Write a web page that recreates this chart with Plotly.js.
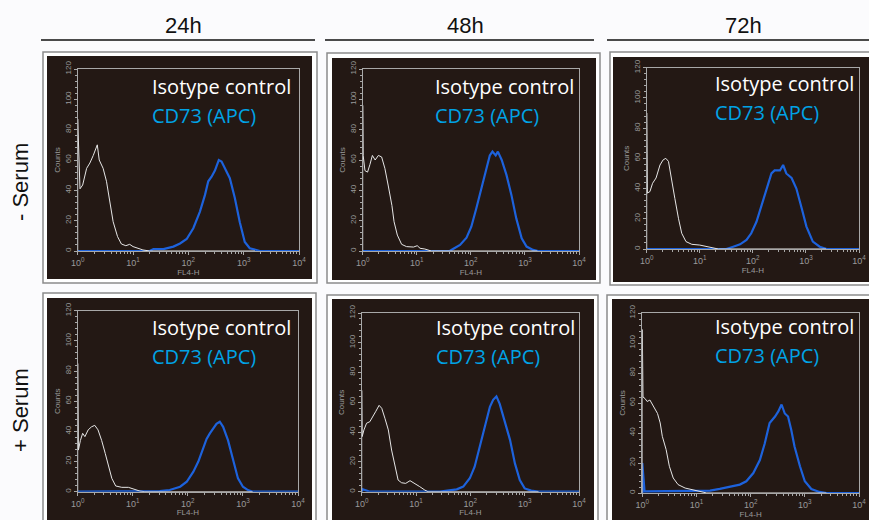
<!DOCTYPE html>
<html>
<head>
<meta charset="utf-8">
<script src="https://cdn.plot.ly/plotly-3.0.1.min.js"></script>
<style>html,body{margin:0;padding:0;background:#fbfbfd;}#chart{width:869px;height:520px;}</style>
</head>
<body>
<div id="chart"></div>
<script>
// ---- Data (FL4-H intensity vs Counts) ----
const timeLabels = ['24h', '48h', '72h'];
const rowLabels = ['- Serum', '+ Serum'];
const isoName = 'Isotype control';
const cdName = 'CD73 (APC)';
const xTickVals = [1, 10, 100, 1000, 10000];
const xTickText = ['10<sup>0</sup>', '10<sup>1</sup>', '10<sup>2</sup>', '10<sup>3</sup>', '10<sup>4</sup>'];

// 24h, - Serum
const iso24mX = [1, 1, 1.1, 1.23, 1.45, 1.66, 1.91, 2.26, 2.45, 2.88, 3.31, 3.8, 4.37, 5.25, 6.17, 7.41, 8.71, 10, 12.3, 15.1, 20, 1600];
const iso24mY = [0, 87, 41, 43.5, 54.5, 58, 63, 70, 60, 54.5, 46, 32.5, 19.3, 9.5, 4.6, 3.5, 4.4, 2.9, 1.8, 0.7, 0, 0];
const cd24mX = [1, 20, 23.4, 35.5, 53.7, 70.8, 93.3, 123, 162, 200, 229, 263, 302, 355, 398, 457, 562, 692, 851, 1047, 1288, 1698, 1950, 10000];
const cd24mY = [0, 0, 1.3, 1.3, 2.9, 5, 7.9, 15, 26, 37, 46, 49, 53, 60, 59, 54.5, 48, 35, 19, 6, 1.8, 0.7, 0, 0];
// 48h, - Serum
const iso48mX = [1, 1, 1.02, 1.1, 1.23, 1.36, 1.51, 1.7, 1.95, 2.24, 2.57, 2.95, 3.47, 3.8, 4.37, 5.25, 6.46, 8.71, 10.2, 11.5, 14.1, 18.6, 1700];
const iso48mY = [0, 96, 63, 53, 52, 57, 63, 60, 63, 62, 54.5, 43.5, 30, 19.3, 10.5, 4.4, 2.9, 2.6, 3.5, 1.8, 1.3, 0, 0];
const cd48mX = [1, 40.7, 46.8, 63.1, 83.2, 102, 126, 158, 195, 224, 251, 288, 316, 372, 457, 562, 692, 871, 1072, 1413, 1738, 10000];
const cd48mY = [0, 0, 1.3, 4, 8.8, 16, 28, 41, 54.5, 63, 65.5, 63, 65.5, 60, 50, 37, 21.5, 8.4, 2.9, 0.7, 0, 0];
// 72h, - Serum
const iso72mX = [1, 1, 1.03, 1.15, 1.29, 1.5, 1.66, 1.78, 2.04, 2.29, 2.57, 2.95, 3.39, 3.98, 4.57, 5.5, 7.08, 10, 13.5, 19.5, 22.4, 2400];
const iso72mY = [0, 90, 37, 38, 43.5, 47, 52, 55.6, 59, 60, 58, 47, 33.5, 20, 10.4, 4.9, 3.1, 2.6, 1.5, 0.4, 0, 0];
const cd72mX = [1, 31.6, 42.7, 57.5, 75.9, 93.3, 117, 145, 182, 224, 257, 324, 372, 427, 537, 661, 832, 1023, 1349, 1820, 2455, 10000];
const cd72mY = [0, 0, 1.5, 3.1, 6, 10.4, 18, 29, 40, 50, 52, 52, 55.6, 50, 47, 40, 27, 14.8, 4.9, 1.5, 0, 0];
// 24h, + Serum
const iso24pX = [1, 1, 1.03, 1.12, 1.23, 1.35, 1.55, 1.78, 2.04, 2.34, 2.72, 3.16, 3.63, 4.17, 4.9, 6.31, 8.32, 11, 13.5, 16.6, 1500];
const iso24pY = [0, 85, 27.6, 34, 38.7, 36.5, 41, 43, 44, 41, 34, 25.4, 16.6, 8.8, 3.8, 2.9, 2.9, 1.5, 0.4, 0, 0];
const cd24pX = [1, 20.4, 30.9, 46.8, 72.4, 95.5, 126, 155, 191, 219, 251, 288, 331, 380, 437, 537, 661, 813, 1000, 1230, 1514, 10000];
const cd24pY = [0, 0, 0.4, 1.1, 3.3, 6.6, 13.3, 20, 30, 35, 38.7, 42, 45, 46.4, 43, 34, 21, 8.8, 3.3, 1.1, 0, 0];
// 48h, + Serum
const iso48pX = [1, 1, 1.02, 1.1, 1.23, 1.41, 1.62, 1.82, 2.09, 2.34, 2.69, 3.09, 3.55, 4.07, 4.68, 5.43, 6.46, 7.76, 9.55, 11.7, 14.5, 16.6, 1800];
const iso48pY = [0, 68, 37, 41.5, 46, 47, 50.4, 54, 58, 56, 49, 41.5, 28, 16.8, 7.8, 6, 5.6, 7.4, 5.6, 3.4, 1.1, 0, 0];
const cd48pX = [1, 1.05, 1.3, 1.4, 27.5, 36.3, 56.2, 74.1, 97.7, 120, 148, 186, 229, 263, 302, 347, 427, 537, 661, 813, 1000, 1318, 1778, 10000];
const cd48pY = [0, 1.6, 0.4, 0, 0, 0.7, 1.6, 3.4, 9, 16.8, 30, 43.7, 57, 61.7, 64, 59, 48, 34.8, 19, 7.8, 2.2, 0.7, 0, 0];
// 72h, + Serum
const iso72pX = [1, 1, 1.03, 1.12, 1.23, 1.38, 1.55, 1.7, 1.91, 2.14, 2.34, 2.75, 3.16, 3.72, 4.57, 6.17, 8.13, 10.7, 13.2, 15.5, 2500];
const iso72pY = [0, 109, 64, 63, 61, 62, 59, 56.7, 53, 46.7, 37.8, 29, 17.8, 10, 5.6, 3.3, 2.2, 1.1, 0.4, 0, 0];
const cd72pX = [1, 1, 1.1, 11.5, 17.8, 26.9, 41.7, 63.1, 83.2, 112, 148, 182, 224, 282, 324, 372, 427, 490, 562, 646, 813, 1000, 1318, 1862, 2512, 10000];
const cd72pY = [0, 20, 1.1, 1.1, 1.6, 2.7, 4.4, 5.6, 7.8, 13.3, 22, 33, 46.7, 51, 54.4, 59, 53, 51, 42, 31, 17.8, 7.8, 2.7, 0.7, 0, 0];

// ---- Layout geometry (pixels) ----
const W = 869, H = 520;
const fx = p => p / W;
const fy = p => 1 - p / H;

const panels = [
  {iso: [iso24mX, iso24mY], cd: [cd24mX, cd24mY], plot: [77.7, 299, 69, 251], frame: [43, 317, 52, 283], dark: [47, 312, 56, 279], lab: [150, 87, 115]},
  {iso: [iso48mX, iso48mY], cd: [cd48mX, cd48mY], plot: [362.7, 579, 69, 251], frame: [327, 600, 53, 283], dark: [332, 596, 58, 280], lab: [433, 87, 115]},
  {iso: [iso72mX, iso72mY], cd: [cd72mX, cd72mY], plot: [646.7, 859, 67.7, 249], frame: [610, 872, 52, 285], dark: [613, 872, 57, 282], lab: [713, 83.5, 112]},
  {iso: [iso24pX, iso24pY], cd: [cd24pX, cd24pY], plot: [77.7, 298, 310.7, 491.7], frame: [43, 316, 293, 523], dark: [47, 312, 298, 523], lab: [150, 327, 356]},
  {iso: [iso48pX, iso48pY], cd: [cd48pX, cd48pY], plot: [361.7, 579, 313, 491.7], frame: [327, 598, 295, 523], dark: [332, 594, 299, 523], lab: [434, 327, 356]},
  {iso: [iso72pX, iso72pY], cd: [cd72pX, cd72pY], plot: [642.3, 859, 313, 493], frame: [607, 872, 295, 523], dark: [612, 872, 299, 523], lab: [713, 326, 355]}
];

const minorVals = [];
for (let d = 1; d < 10000; d *= 10) { for (let k = 2; k <= 9; k++) minorVals.push(k * d); }

const axisGray = '#a8a8a8';
const labelGray = '#9a9a9a';
const traces = [];
const layout = {
  width: W, height: H,
  margin: {l: 0, r: 0, t: 0, b: 0},
  paper_bgcolor: '#fbfbfd',
  plot_bgcolor: 'rgba(0,0,0,0)',
  showlegend: false,
  font: {family: 'Liberation Sans, Arial, sans-serif'},
  shapes: [], annotations: []
};

panels.forEach((p, i) => {
  const n = i + 1;
  const xa = 'x' + (n === 1 ? '' : n), ya = 'y' + (n === 1 ? '' : n);
  traces.push({x: p.cd[0], y: p.cd[1], xaxis: xa, yaxis: ya, type: 'scatter', mode: 'lines', name: cdName,
    line: {color: '#1d62dc', width: 2.2}, cliponaxis: false, hoverinfo: 'skip'});
  traces.push({x: p.iso[0], y: p.iso[1], xaxis: xa, yaxis: ya, type: 'scatter', mode: 'lines', name: isoName,
    line: {color: '#e6e6e6', width: 1}, cliponaxis: false, hoverinfo: 'skip'});
  layout['xaxis' + (n === 1 ? '' : n)] = {
    domain: [fx(p.plot[0]), fx(p.plot[1])], anchor: ya, type: 'log', range: [0, 4],
    showline: true, linecolor: axisGray, linewidth: 1, mirror: true, automargin: false,
    ticks: 'outside', ticklen: 3, tickwidth: 1, tickcolor: axisGray,
    tickmode: 'array', tickvals: xTickVals, ticktext: xTickText,
    tickfont: {size: 9, color: labelGray}, showgrid: false, zeroline: false,
    minor: {tickmode: 'array', tickvals: minorVals, ticks: 'outside', ticklen: 2, tickcolor: axisGray, showgrid: false},
    title: {text: 'FL4-H', font: {size: 8, color: labelGray}, standoff: 0}
  };
  layout['yaxis' + (n === 1 ? '' : n)] = {
    domain: [fy(p.plot[3]), fy(p.plot[2])], anchor: xa, range: [0, 120],
    showline: true, linecolor: axisGray, linewidth: 1, mirror: true, automargin: false,
    ticks: 'outside', ticklen: 3, tickwidth: 1, tickcolor: axisGray,
    dtick: 20, tick0: 0, tickangle: -90,
    tickfont: {size: 8, color: labelGray}, showgrid: false, zeroline: false,
    minor: {dtick: 4, ticks: 'outside', ticklen: 2, tickcolor: axisGray, showgrid: false},
    title: {text: 'Counts', font: {size: 8, color: labelGray}, standoff: 1}
  };
  layout.shapes.push({type: 'rect', xref: 'paper', yref: 'paper', layer: 'below',
    x0: fx(p.frame[0]), x1: fx(p.frame[1]), y0: fy(p.frame[3]), y1: fy(p.frame[2]),
    fillcolor: '#ffffff', line: {color: '#8c8c8c', width: 1.5}});
  layout.shapes.push({type: 'rect', xref: 'paper', yref: 'paper', layer: 'below',
    x0: fx(p.dark[0]), x1: fx(p.dark[1]), y0: fy(p.dark[3]), y1: fy(p.dark[2]),
    fillcolor: '#231814', line: {width: 0}});
  layout.annotations.push({xref: 'paper', yref: 'paper', x: fx(p.lab[0]), y: fy(p.lab[1]), xanchor: 'left', yanchor: 'middle',
    text: isoName, showarrow: false, font: {family: 'Open Sans, Noto Sans, sans-serif', size: 20, color: '#ffffff'}});
  layout.annotations.push({xref: 'paper', yref: 'paper', x: fx(p.lab[0]), y: fy(p.lab[2]), xanchor: 'left', yanchor: 'middle',
    text: cdName, showarrow: false, font: {family: 'Open Sans, Noto Sans, sans-serif', size: 20, color: '#00a3e6'}});
});

// column headers and underlines
const headerX = [183.5, 466, 743];
const headerLines = [[41, 315], [325, 594], [607, 869]];
timeLabels.forEach((t, i) => {
  layout.annotations.push({xref: 'paper', yref: 'paper', x: fx(headerX[i]), y: fy(25), xanchor: 'center', yanchor: 'middle',
    text: t, showarrow: false, font: {size: 22, color: '#111111'}});
  layout.shapes.push({type: 'line', xref: 'paper', yref: 'paper', x0: fx(headerLines[i][0]), x1: fx(headerLines[i][1]),
    y0: fy(40), y1: fy(40), line: {color: '#4a4a4a', width: 2}});
});
// row labels
const rowY = [182, 410];
rowLabels.forEach((t, i) => {
  layout.annotations.push({xref: 'paper', yref: 'paper', x: fx(20), y: fy(rowY[i]), xanchor: 'center', yanchor: 'middle',
    text: t, textangle: -90, showarrow: false, font: {size: 22, color: '#111111'}});
});

Plotly.newPlot('chart', traces, layout, {staticPlot: true, displayModeBar: false});
</script>
</body>
</html>
